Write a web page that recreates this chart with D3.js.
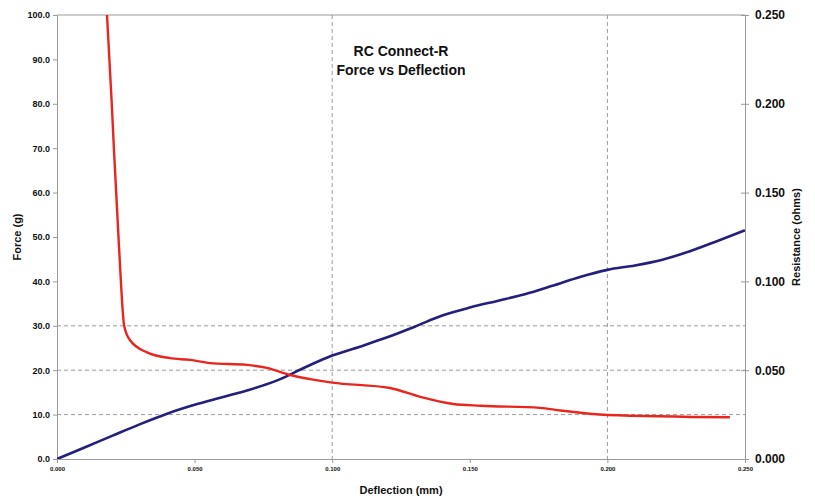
<!DOCTYPE html>
<html>
<head>
<meta charset="utf-8">
<script src="https://cdn.jsdelivr.net/npm/d3@7"></script>
<style>
  html, body { margin: 0; padding: 0; background: #fff; }
  svg { display: block; font-family: Arial, "Liberation Sans", sans-serif; }
</style>
</head>
<body>
<svg id="chart" width="815" height="501"></svg>
<script>
// ---- data ----
const forceDeflection = [0, 0.01, 0.02, 0.03, 0.04, 0.05, 0.06, 0.07, 0.08, 0.09, 0.10, 0.11, 0.12, 0.13, 0.14, 0.15, 0.16, 0.17, 0.18, 0.19, 0.20, 0.21, 0.22, 0.23, 0.24, 0.25];
const forceValues = [0, 2.6, 5.2, 7.8, 10.2, 12.2, 13.9, 15.6, 17.7, 20.6, 23.3, 25.3, 27.4, 29.8, 32.3, 34.1, 35.6, 37.1, 39.0, 41.0, 42.6, 43.6, 44.9, 46.8, 49.1, 51.5];

const resDeflection = [0.0180, 0.0199, 0.0207, 0.0226, 0.0244, 0.0265, 0.0327, 0.041, 0.0483, 0.0556, 0.069, 0.0763, 0.0847, 0.092, 0.100, 0.121, 0.132, 0.144, 0.154, 0.1755, 0.183, 0.200, 0.2445];
const resValues = [0.255, 0.200, 0.174, 0.1175, 0.075, 0.067, 0.060, 0.0568, 0.0558, 0.054, 0.053, 0.0513, 0.0473, 0.045, 0.043, 0.040, 0.035, 0.031, 0.030, 0.0288, 0.0273, 0.0248, 0.0235];

const xTicks = [0, 0.05, 0.10, 0.15, 0.20, 0.25];
const forceTicks = [0, 10, 20, 30, 40, 50, 60, 70, 80, 90, 100];
const resTicks = [0, 0.05, 0.10, 0.15, 0.20, 0.25];
const hGrid = [10, 20, 30];
const vGrid = [0.10, 0.20];

const title = ["RC Connect-R", "Force vs Deflection"];

// ---- layout ----
const svg = d3.select("#chart");
const L = 57, R = 745, T = 15, B = 459;

const x = d3.scaleLinear().domain([0, 0.25]).range([L, R]);
const yF = d3.scaleLinear().domain([0, 100]).range([B, T]);
const yR = d3.scaleLinear().domain([0, 0.25]).range([B, T]);

svg.append("rect").attr("width", 815).attr("height", 501).attr("fill", "#fff");

svg.append("defs").append("clipPath").attr("id", "clip")
  .append("rect").attr("x", L).attr("y", T).attr("width", R - L).attr("height", B - T);

// gridlines
svg.append("g").selectAll("line").data(hGrid).join("line")
  .attr("x1", L).attr("x2", R).attr("y1", d => yF(d)).attr("y2", d => yF(d))
  .attr("stroke", "#9a9a9a").attr("stroke-width", 1).attr("stroke-dasharray", "4,3");
svg.append("g").selectAll("line").data(vGrid).join("line")
  .attr("y1", T).attr("y2", B).attr("x1", d => x(d)).attr("x2", d => x(d))
  .attr("stroke", "#9a9a9a").attr("stroke-width", 1).attr("stroke-dasharray", "4,3");

// top frame line
svg.append("line").attr("x1", L).attr("x2", R).attr("y1", T).attr("y2", T)
  .attr("stroke", "#9a9a9a").attr("stroke-width", 1);

// axes
const axisStyle = g => {
  g.select(".domain").attr("stroke", "#9a9a9a");
  g.selectAll(".tick line").attr("stroke", "#9a9a9a");
  g.selectAll("text").attr("fill", "#111");
};

svg.append("g").attr("transform", `translate(0,${B})`)
  .call(d3.axisBottom(x).tickValues(xTicks).tickFormat(d3.format(".3f")).tickSize(4).tickSizeOuter(0))
  .call(axisStyle)
  .call(g => g.selectAll("text").attr("font-size", 6).attr("font-weight", "bold").attr("dy", "0.9em"));

svg.append("g").attr("transform", `translate(${L},0)`)
  .call(d3.axisLeft(yF).tickValues(forceTicks).tickFormat(d3.format(".1f")).tickSize(4).tickSizeOuter(0))
  .call(axisStyle)
  .call(g => g.selectAll("text").attr("font-size", 9).attr("font-weight", "bold").attr("x", -7));

svg.append("g").attr("transform", `translate(${R},0)`)
  .call(d3.axisRight(yR).tickValues(resTicks).tickFormat(d3.format(".3f")).tickSize(4).tickSizeOuter(0))
  .call(axisStyle)
  .call(g => {
    g.selectAll(".tick line").attr("x1", -4).attr("x2", 4);
    g.selectAll("text").attr("font-size", 12).attr("x", 10).attr("font-weight", "600");
  });

// lines
const lineF = d3.line().x((d, i) => x(forceDeflection[i])).y(d => yF(d)).curve(d3.curveMonotoneX);
const lineR = d3.line().x((d, i) => x(resDeflection[i])).y(d => yR(d)).curve(d3.curveMonotoneX);

const plot = svg.append("g").attr("clip-path", "url(#clip)");
plot.append("path").datum(forceValues).attr("d", lineF)
  .attr("fill", "none").attr("stroke", "#231f7c").attr("stroke-width", 2.6);
plot.append("path").datum(resValues).attr("d", lineR)
  .attr("fill", "none").attr("stroke", "#e8261e").attr("stroke-width", 2.4);

// titles
svg.append("text").attr("x", 401).attr("y", 56).attr("text-anchor", "middle")
  .attr("font-size", 14).attr("font-weight", "bold").attr("fill", "#111").text(title[0]);
svg.append("text").attr("x", 401).attr("y", 75).attr("text-anchor", "middle")
  .attr("font-size", 14).attr("font-weight", "bold").attr("fill", "#111").text(title[1]);

svg.append("text").attr("x", 401).attr("y", 494).attr("text-anchor", "middle")
  .attr("font-size", 11).attr("font-weight", "bold").attr("fill", "#111").text("Deflection (mm)");
svg.append("text").attr("transform", `translate(21,${(T + B) / 2}) rotate(-90)`).attr("text-anchor", "middle")
  .attr("font-size", 11).attr("font-weight", "bold").attr("fill", "#111").text("Force (g)");
svg.append("text").attr("transform", `translate(800,${(T + B) / 2}) rotate(-90)`).attr("text-anchor", "middle")
  .attr("font-size", 11).attr("font-weight", "bold").attr("fill", "#111").text("Resistance (ohms)");
</script>
</body>
</html>
